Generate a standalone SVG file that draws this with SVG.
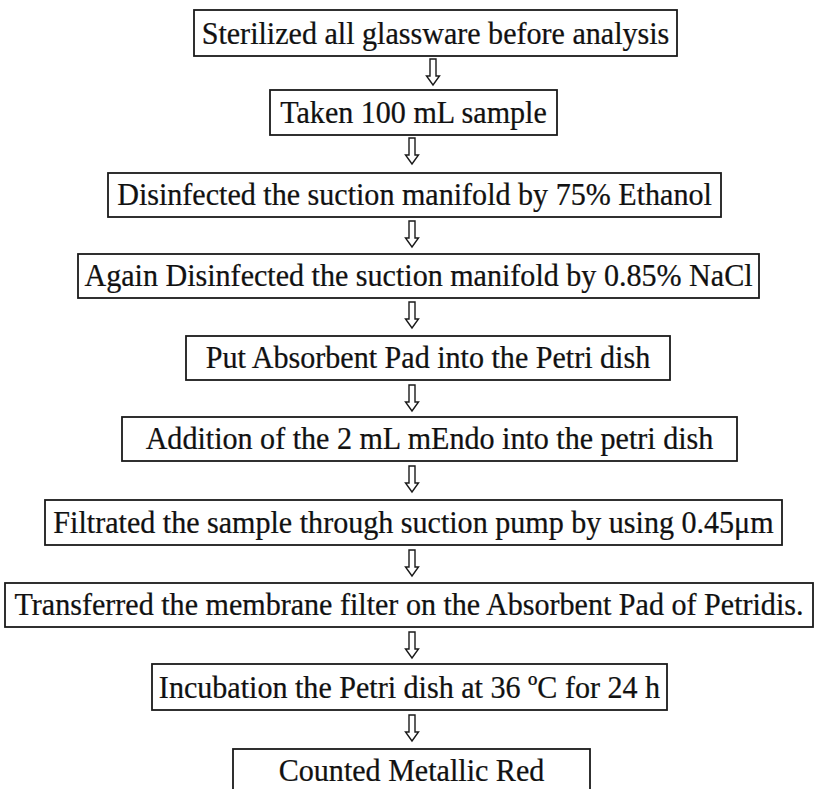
<svg xmlns="http://www.w3.org/2000/svg" width="816" height="789" viewBox="0 0 816 789">
<defs>
<style>
.box{fill:#fff;stroke:#1a1a1a;stroke-width:1.8}
.t{font-family:"Liberation Serif","Times New Roman",serif;font-size:32px;fill:#111;stroke:#111;stroke-width:0.25;text-anchor:middle}
.arr{fill:#fff;stroke:#1a1a1a;stroke-width:1.4;stroke-linejoin:miter}
</style>
<path id="ar" d="M-3,0 V17 H-6.5 L0,26 L6.5,17 H3 V0 Z"/>
</defs>
<rect width="816" height="789" fill="#fff"/>
<g id="connectors">
<use href="#ar" class="arr" x="433" y="59"/>
<use href="#ar" class="arr" x="412" y="138"/>
<use href="#ar" class="arr" x="412" y="221"/>
<use href="#ar" class="arr" x="412" y="302"/>
<use href="#ar" class="arr" x="412" y="385"/>
<use href="#ar" class="arr" x="412" y="466"/>
<use href="#ar" class="arr" x="412" y="550"/>
<use href="#ar" class="arr" x="412" y="632"/>
<use href="#ar" class="arr" x="412" y="715"/>
</g>
<g id="n1"><rect class="box" x="194" y="10" width="483" height="46"/><text class="t" transform="translate(435.5,44) scale(0.94,1)">Sterilized all glassware before analysis</text></g>
<g id="n2"><rect class="box" x="270" y="90" width="287" height="45"/><text class="t" transform="translate(413.5,123) scale(0.94,1)">Taken 100 mL sample</text></g>
<g id="n3"><rect class="box" x="108" y="173" width="613" height="44"/><text class="t" transform="translate(414.5,205) scale(0.94,1)">Disinfected the suction manifold by 75% Ethanol</text></g>
<g id="n4"><rect class="box" x="78" y="254" width="681" height="44"/><text class="t" transform="translate(418.5,286) scale(0.94,1)">Again Disinfected the suction manifold by 0.85% NaCl</text></g>
<g id="n5"><rect class="box" x="186" y="336" width="484" height="44"/><text class="t" transform="translate(428,368) scale(0.94,1)">Put Absorbent Pad into the Petri dish</text></g>
<g id="n6"><rect class="box" x="122" y="417" width="615" height="44"/><text class="t" transform="translate(429.5,449) scale(0.94,1)">Addition of the 2 mL mEndo into the petri dish</text></g>
<g id="n7"><rect class="box" x="45" y="500" width="737" height="45"/><text class="t" transform="translate(413.5,533) scale(0.94,1)">Filtrated the sample through suction pump by using 0.45μm</text></g>
<g id="n8"><rect class="box" x="5" y="583" width="808" height="44"/><text class="t" transform="translate(409,615) scale(0.94,1)">Transferred the membrane filter on the Absorbent Pad of Petridis.</text></g>
<g id="n9"><rect class="box" x="152" y="664" width="515" height="46"/><text class="t" transform="translate(409.5,698) scale(0.94,1)">Incubation the Petri dish at 36 ºC for 24 h</text></g>
<g id="n10"><rect class="box" x="233" y="749" width="357" height="60"/><text class="t" transform="translate(411.5,781) scale(0.94,1)">Counted Metallic Red</text></g>
</svg>
